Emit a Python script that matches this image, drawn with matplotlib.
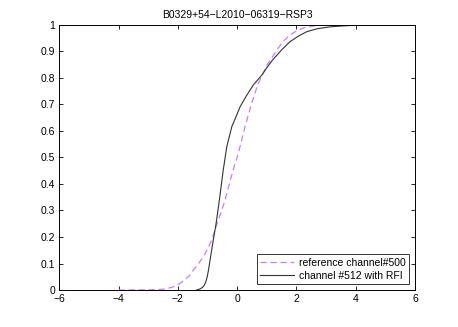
import matplotlib
matplotlib.use("Agg")
import matplotlib.pyplot as plt

plt.rcParams['font.family'] = ['Liberation Sans', 'DejaVu Sans']

title = "B0329+54\u2212L2010\u221206319\u2212RSP3"
ref_label = "reference channel#500"
rfi_label = "channel #512 with RFI"

ref_x = [-4.0, -3.5, -3.0, -2.5, -2.2, -2.0, -1.8, -1.6, -1.48, -1.3, -1.14, -1.0,
         -0.86, -0.75, -0.64, -0.52, -0.41, -0.24, -0.13, 0.04, 0.265, 0.49, 0.71,
         0.88, 1.0, 1.11, 1.34, 1.55, 1.78, 2.05, 2.35, 2.7, 3.13, 3.6, 4.0]
ref_y = [0.0, 0.0005, 0.001, 0.003, 0.010, 0.020, 0.035, 0.055, 0.075, 0.10, 0.126, 0.155,
         0.188, 0.225, 0.264, 0.30, 0.339, 0.41, 0.455, 0.515, 0.616, 0.704, 0.779,
         0.817, 0.848, 0.865, 0.905, 0.937, 0.961, 0.980, 0.992, 0.997, 0.999, 1.0, 1.0]

rfi_x = [-1.37, -1.31, -1.24, -1.17, -1.11, -1.06, -1.01, -0.96, -0.86, -0.78, -0.71,
         -0.60, -0.47, -0.35, -0.18, -0.07, 0.10, 0.30, 0.545, 0.83, 1.0, 1.2, 1.5,
         1.78, 2.05, 2.35, 2.7, 3.13, 3.6, 4.0, 4.3, 4.65]
rfi_y = [0.0, 0.002, 0.005, 0.010, 0.018, 0.030, 0.050, 0.080, 0.151, 0.205, 0.251,
         0.339, 0.452, 0.54, 0.616, 0.645, 0.691, 0.73, 0.773, 0.81, 0.838, 0.868, 0.905,
         0.936, 0.956, 0.974, 0.985, 0.992, 0.996, 0.998, 0.999, 1.0]

x_ticks = [-6, -4, -2, 0, 2, 4, 6]
y_ticks = [0, 0.1, 0.2, 0.3, 0.4, 0.5, 0.6, 0.7, 0.8, 0.9, 1]
y_tick_labels = ["0", "0.1", "0.2", "0.3", "0.4", "0.5", "0.6", "0.7", "0.8", "0.9", "1"]

fig = plt.figure(figsize=(4.58, 3.27), dpi=100)
ax = fig.add_axes([0.1295, 0.113, 0.7766, 0.8113])

ax.plot(ref_x, ref_y, linestyle=(0, (5, 3)), color='#C080FF', linewidth=0.9, label=ref_label)
ax.plot(rfi_x, rfi_y, linestyle='-', color='#333333', linewidth=0.8, label=rfi_label)

ax.set_xlim(-6, 6)
ax.set_ylim(0, 1)
ax.set_xticks(x_ticks)
ax.set_xticklabels([("\u2212" + str(abs(t))) if t < 0 else str(t) for t in x_ticks])
ax.set_yticks(y_ticks)
ax.set_yticklabels(y_tick_labels)
ax.tick_params(direction='in', top=True, right=True, labelsize=7.5, length=3, width=0.6, pad=3)
for s in ax.spines.values():
    s.set_linewidth(0.7)
ax.set_title(title, fontsize=7.5, pad=5)

leg = ax.legend(loc='lower right', fontsize=7.5, frameon=True, fancybox=False,
                edgecolor='black', borderpad=0.35, handlelength=3.2, handletextpad=0.5,
                labelspacing=0.3, borderaxespad=0.55)
leg.get_frame().set_linewidth(0.7)

fig.savefig("out.png", dpi=100)
